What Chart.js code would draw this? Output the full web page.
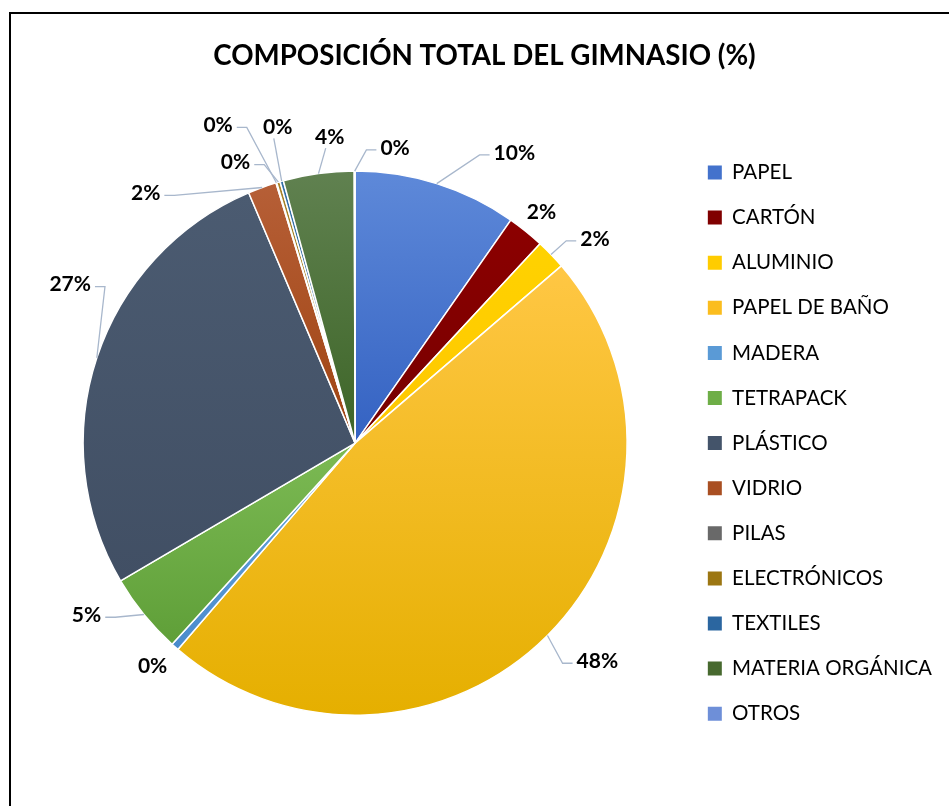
<!DOCTYPE html>
<html>
<head>
<meta charset="utf-8">
<title>Composición total del gimnasio</title>
<script src="https://cdn.jsdelivr.net/npm/chart.js@4.4.0/dist/chart.umd.min.js"></script>
<style>
  html, body { margin: 0; padding: 0; background: #fff; }
  #wrap { position: relative; width: 949px; height: 806px; overflow: hidden; }
  #frame { position: absolute; left: 9px; top: 12px; width: 1000px; height: 900px;
           border-left: 2px solid #000; border-top: 2px solid #000; pointer-events: none; }
  #chart { position: absolute; left: 0; top: 0; }
</style>
</head>
<body>
<div id="wrap">
  <div id="frame"></div>
  <canvas id="chart" width="949" height="806"></canvas>
</div>
<script>
// data (percent of total)
const categories = ['PAPEL', 'CARTÓN', 'ALUMINIO', 'PAPEL DE BAÑO', 'MADERA', 'TETRAPACK',
  'PLÁSTICO', 'VIDRIO', 'PILAS', 'ELECTRÓNICOS', 'TEXTILES', 'MATERIA ORGÁNICA', 'OTROS'];
const values = [9.7, 2.2, 1.8, 47.6, 0.45, 4.8, 27.05, 1.7, 0.05, 0.2, 0.2, 4.2, 0.05];

// slice colours: [top of slice, bottom of slice]
const sliceColors = [
  ['#5e89d9', '#3462c2'], ['#8c0000', '#760000'], ['#ffd200', '#ffc700'],
  ['#ffc744', '#e5af00'], ['#6ba8de', '#4a8bcc'], ['#7cba54', '#5f9f38'],
  ['#4b5b71', '#414f64'], ['#b65f37', '#9f4311'], ['#777777', '#5e5e5e'],
  ['#a8832a', '#8f6c00'], ['#3470a8', '#245b8e'], ['#608150', '#3d6527'],
  ['#7b9bdf', '#5b80cc']
];
const legendColors = ['#4372cc', '#800000', '#ffcc00', '#fbbd1e', '#5a9ad6', '#6eae47',
  '#44546a', '#a94f22', '#696969', '#9c7612', '#2b66a0', '#47692f', '#6e8fd8'];

// data label placement: angle shift (deg) from the slice middle, gap beyond the rim (px)
const labelShift = [11.3, 0, 3.5, -3, 0.8, 6.4, 10.8, -20, -6.5, -6.7, 1.9, 3, 7.8];
const labelGap = [59, 25, 43, 54, 29, 47, 54, 54, 74, 33, 53, 35, 26];
const leaderType = ['side', 'none', 'side', 'side', 'none', 'side', 'side', 'side',
  'side', 'side', 'bottom', 'bottom', 'side'];

const PIE_RADIUS = 272;

function sliceFill(c) {
  const chart = c.chart, area = chart.chartArea;
  const i = c.dataIndex;
  if (!area) return sliceColors[i][1];
  const total = values.reduce((a, b) => a + b, 0);
  let before = 0;
  for (let k = 0; k < i; k++) before += values[k];
  const a0 = -Math.PI / 2 + before / total * 2 * Math.PI;
  const a1 = a0 + values[i] / total * 2 * Math.PI;
  const cy = (area.top + area.bottom) / 2;
  const ys = [cy, cy + PIE_RADIUS * Math.sin(a0), cy + PIE_RADIUS * Math.sin(a1)];
  [-Math.PI / 2, Math.PI / 2, 3 * Math.PI / 2].forEach(t => {
    if (t > a0 && t < a1) ys.push(cy + PIE_RADIUS * Math.sin(t));
  });
  const g = chart.ctx.createLinearGradient(0, Math.min(...ys), 0, Math.max(...ys) + 0.1);
  g.addColorStop(0, sliceColors[i][0]);
  g.addColorStop(1, sliceColors[i][1]);
  return g;
}

const pieLabels = {
  id: 'pieLabels',
  afterDatasetsDraw(chart) {
    const meta = chart.getDatasetMeta(0);
    const ctx = chart.ctx;
    const total = values.reduce((a, b) => a + b, 0);
    ctx.save();
    ctx.font = 'bold 21px Lato';
    ctx.textAlign = 'center';
    ctx.textBaseline = 'middle';
    meta.data.forEach((arc, i) => {
      const p = arc.getProps(['x', 'y', 'startAngle', 'endAngle', 'outerRadius'], true);
      const mid = (p.startAngle + p.endAngle) / 2;
      const ex = p.x + Math.cos(mid) * p.outerRadius;
      const ey = p.y + Math.sin(mid) * p.outerRadius;
      const a = mid + labelShift[i] * Math.PI / 180;
      const d = p.outerRadius + labelGap[i];
      const lx = p.x + Math.cos(a) * d;
      const ly = p.y + Math.sin(a) * d;
      const text = Math.round(values[i] / total * 100) + '%';
      const w = ctx.measureText(text).width;

      if (leaderType[i] !== 'none') {
        ctx.strokeStyle = '#a8b7cc';
        ctx.lineWidth = 1.3;
        ctx.beginPath();
        ctx.moveTo(ex, ey);
        if (leaderType[i] === 'bottom') {
          ctx.lineTo(lx - 4, ly + 11);
        } else {
          const right = lx > ex;
          const ax = right ? lx - w / 2 - 4 : lx + w / 2 + 4;
          const bx = right ? ax - 10 : ax + 10;
          ctx.lineTo(bx, ly + 2);
          ctx.lineTo(ax, ly + 2);
        }
        ctx.stroke();
      }
      ctx.fillStyle = '#000';
      ctx.fillText(text, lx, ly);
    });
    ctx.restore();
  }
};

function draw() {
  Chart.defaults.font.family = 'Lato';
  new Chart(document.getElementById('chart'), {
    type: 'pie',
    data: {
      labels: categories,
      datasets: [{
        data: values,
        backgroundColor: sliceFill,
        borderColor: '#ffffff',
        borderWidth: 1.5,
        radius: PIE_RADIUS
      }]
    },
    options: {
      responsive: false,
      animation: false,
      layout: { padding: { left: 27, right: 7, top: 0, bottom: 10 } },
      plugins: {
        title: {
          display: true,
          text: 'COMPOSICIÓN TOTAL DEL GIMNASIO (%)',
          color: '#000',
          font: { family: 'Lato', size: 27.7, weight: 'bold' },
          padding: { top: 39, bottom: 18 }
        },
        legend: {
          position: 'right',
          fullSize: false,
          labels: {
            boxWidth: 14,
            boxHeight: 14,
            padding: 24.6,
            color: '#000',
            font: { family: 'Lato', size: 20.5 },
            generateLabels: () => categories.map((c, i) => ({
              text: c, fillStyle: legendColors[i], strokeStyle: legendColors[i],
              lineWidth: 0, hidden: false, index: i
            }))
          }
        },
        tooltip: { enabled: false }
      }
    },
    plugins: [pieLabels]
  });
}

Promise.all([
  document.fonts.load('20px Lato'),
  document.fonts.load('bold 21px Lato')
]).then(draw, draw);
</script>
</body>
</html>
